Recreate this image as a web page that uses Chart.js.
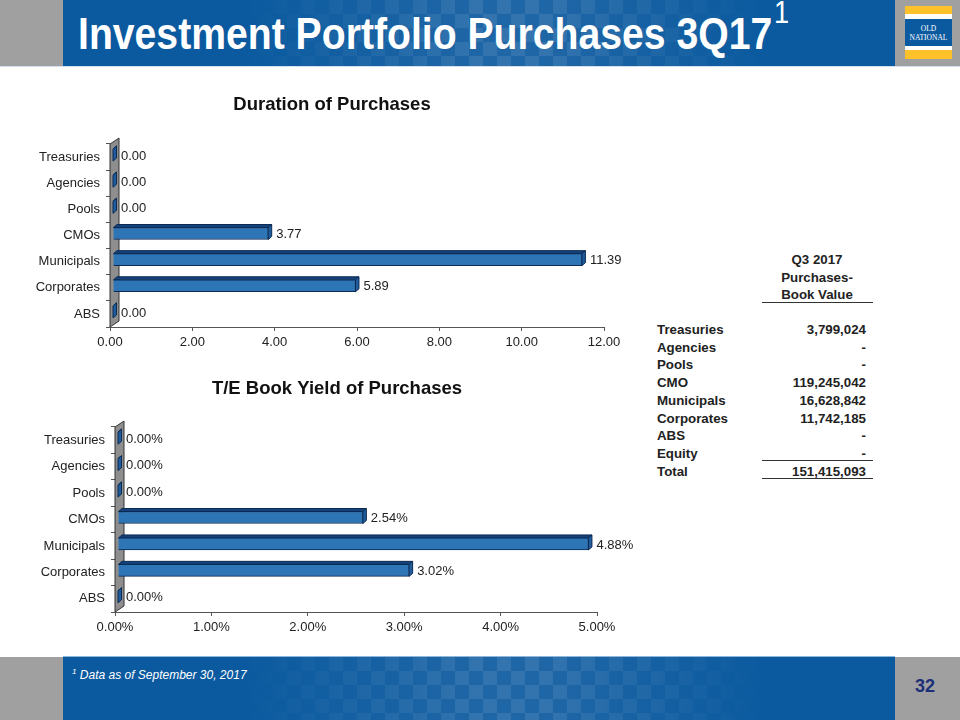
<!DOCTYPE html>
<html>
<head>
<meta charset="utf-8">
<script src="https://cdn.jsdelivr.net/npm/chart.js@4"></script>
<style>
  html, body { margin: 0; padding: 0; background: #fff; }
  body { position: relative; width: 960px; height: 720px; overflow: hidden; font-family: "Liberation Sans", Arial, sans-serif; }
  .abs { position: absolute; }
  .gray { background: #a0a0a0; }
  .check {
    background: repeating-conic-gradient(rgba(255,255,255,.09) 0 25%, transparent 0 50%) 0 0 / 28px 28px, #145f a2;
    background: repeating-conic-gradient(rgba(255,255,255,.09) 0 25%, transparent 0 50%) 0 0 / 28px 28px, #1f66a6;
  }
  .fade {
    background: linear-gradient(90deg, #0b5a9f 0%, #0b5a9f 22%, rgba(11,90,159,0) 50%, rgba(11,90,159,0) 58%, #0b5a9f 84%);
  }
  #title { left: 78px; top: 8px; color: #fff; font-weight: bold; font-size: 44px; line-height: 52px; white-space: nowrap; transform-origin: 0 0; transform: scaleX(.89); }
  #sup { left: 774px; top: -6px; color: #fff; font-size: 32px; line-height: 36px; transform-origin: 0 0; transform: scaleX(.85); }
  #note { left: 72px; top: 668px; color: #fff; font-style: italic; font-size: 12px; line-height: 15px; white-space: nowrap; }
  #note sup { font-size: 8px; line-height: 0; }
  #page { left: 895px; width: 60px; top: 675px; text-align: center; color: #1c2f78; font-weight: bold; font-size: 18px; line-height: 22px; }
  #logoText { left: 905px; width: 47px; top: 25px; text-align: center; color: #fff; font-family: "Liberation Serif", serif; font-size: 7.5px; line-height: 8.5px; }
  canvas { position: absolute; }
  .cell { position: absolute; font-weight: bold; font-size: 13.3px; line-height: 16px; color: #222; white-space: nowrap; }
  .rule { position: absolute; left: 762px; width: 111px; height: 1px; background: #333; }
</style>
</head>
<body>
<div class="abs gray" style="left:0;top:0;width:960px;height:66px"></div>
<div class="abs check" style="left:63px;top:0;width:832px;height:66px"></div>
<div class="abs fade" style="left:63px;top:0;width:832px;height:66px"></div>
<div class="abs" style="left:0;top:66px;width:960px;height:1px;background:#d4e2ef"></div>
<div class="abs" id="title">Investment Portfolio Purchases 3Q17</div>
<div class="abs" id="sup">1</div>

<div class="abs" style="left:905px;top:6px;width:47px;height:8px;background:#fdc12a"></div>
<div class="abs" style="left:905px;top:14px;width:47px;height:5px;background:#fff"></div>
<div class="abs" style="left:905px;top:19px;width:47px;height:27px;background:#0b5a9f"></div>
<div class="abs" style="left:905px;top:46px;width:47px;height:4px;background:#fff"></div>
<div class="abs" style="left:905px;top:50px;width:47px;height:9px;background:#fdc12a"></div>
<div class="abs" id="logoText">OLD<br>NATIONAL</div>

<div class="abs gray" style="left:0;top:657px;width:960px;height:63px"></div>
<div class="abs check" style="left:63px;top:657px;width:832px;height:63px"></div>
<div class="abs fade" style="left:63px;top:657px;width:832px;height:63px"></div>
<div class="abs" style="left:63px;top:656px;width:832px;height:1px;background:#8fb8dc"></div>
<div class="abs" id="note"><sup>1</sup> Data as of September 30, 2017</div>
<div class="abs" id="page">32</div>

<canvas id="durationChart" width="640" height="285" style="left:12px;top:86px;width:640px;height:285px"></canvas>
<canvas id="yieldChart" width="640" height="270" style="left:17px;top:371px;width:640px;height:270px"></canvas>
<div id="table"></div>

<script>
var categories = ["Treasuries", "Agencies", "Pools", "CMOs", "Municipals", "Corporates", "ABS"];
var durationValues = [0, 0, 0, 3.77, 11.39, 5.89, 0];
var yieldValues = [0, 0, 0, 2.54, 4.88, 3.02, 0];

var tableHeader = ["Q3 2017", "Purchases-", "Book Value"];
var tableLabels = ["Treasuries", "Agencies", "Pools", "CMO", "Municipals", "Corporates", "ABS", "Equity", "Total"];
var tableValues = ["3,799,024", "-", "-", "119,245,042", "16,628,842", "11,742,185", "-", "-", "151,415,093"];

// fake 3D look of the original: grey wall, bars with a top and a side face
var bar3d = {
  id: 'bar3d',
  beforeDatasetsDraw: function(chart) {
    var ctx = chart.ctx, a = chart.chartArea;
    ctx.save();
    ctx.beginPath();
    ctx.moveTo(a.left, a.top);
    ctx.lineTo(a.left + 9, a.top - 6);
    ctx.lineTo(a.left + 9, a.bottom - 6);
    ctx.lineTo(a.left, a.bottom);
    ctx.closePath();
    ctx.fillStyle = '#8e8e8e';
    ctx.fill();
    ctx.strokeStyle = '#333';
    ctx.lineWidth = 1;
    ctx.stroke();
    ctx.restore();

    ctx.save();
    ctx.translate(3, -2);
    chart.getDatasetMeta(0).data.forEach(function(bar) {
      var p = bar.getProps(['x', 'y', 'base', 'height'], true);
      var top = p.y - p.height / 2, bottom = p.y + p.height / 2;
      ctx.strokeStyle = '#0c2a52';
      ctx.lineWidth = 1;
      ctx.fillStyle = '#14427c';
      ctx.beginPath();
      ctx.moveTo(p.base, top);
      ctx.lineTo(p.base + 3.5, top - 3);
      ctx.lineTo(p.x + 3.5, top - 3);
      ctx.lineTo(p.x, top);
      ctx.closePath();
      ctx.fill();
      ctx.stroke();
      ctx.fillStyle = '#1f5c9e';
      ctx.beginPath();
      ctx.moveTo(p.x, top);
      ctx.lineTo(p.x + 3.5, top - 3);
      ctx.lineTo(p.x + 3.5, bottom - 3);
      ctx.lineTo(p.x, bottom);
      ctx.closePath();
      ctx.fill();
      ctx.stroke();
    });
  },
  afterDatasetsDraw: function(chart) {
    var ctx = chart.ctx;
    ctx.restore();
    var opts = chart.options.plugins.bar3d;
    ctx.save();
    ctx.font = '13px "Liberation Sans", Arial, sans-serif';
    ctx.fillStyle = '#222';
    ctx.textBaseline = 'middle';
    chart.getDatasetMeta(0).data.forEach(function(bar, i) {
      var v = chart.data.datasets[0].data[i];
      ctx.fillText(v.toFixed(2) + opts.suffix, bar.x + 11, bar.y - 1);
    });
    ctx.restore();
  }
};

function makeChart(id, values, titleText, xMax, step, suffix, rightSpace, bottomHeight, titlePad) {
  return new Chart(document.getElementById(id).getContext('2d'), {
    type: 'bar',
    data: {
      labels: categories,
      datasets: [{
        data: values,
        backgroundColor: '#2e75b6',
        borderColor: '#0c2a52',
        borderWidth: 1,
        barThickness: 12
      }]
    },
    plugins: [bar3d],
    options: {
      indexAxis: 'y',
      responsive: false,
      animation: false,
      layout: { padding: 0 },
      plugins: {
        legend: { display: false },
        tooltip: { enabled: false },
        bar3d: { suffix: suffix },
        title: {
          display: true,
          text: titleText,
          color: '#111',
          font: { family: '"Liberation Sans", Arial, sans-serif', size: 18.5, weight: 'bold', lineHeight: 1.2 },
          padding: titlePad
        }
      },
      scales: {
        x: {
          min: 0,
          max: xMax,
          afterFit: function(s) { s.height = bottomHeight; },
          border: { color: '#555' },
          grid: { drawOnChartArea: false, tickColor: '#555', tickLength: 4 },
          ticks: {
            stepSize: step,
            maxRotation: 0,
            color: '#222',
            padding: 4,
            font: { family: '"Liberation Sans", Arial, sans-serif', size: 13 },
            callback: function(v) { return v.toFixed(2) + suffix; }
          }
        },
        y: {
          afterFit: function(s) { s.width = 98; },
          border: { color: '#555' },
          grid: { drawOnChartArea: false, tickColor: '#555', tickLength: 4 },
          ticks: {
            color: '#222',
            padding: 6,
            font: { family: '"Liberation Sans", Arial, sans-serif', size: 13 }
          }
        },
        // empty axis on the right, only keeps room so the title stays centred on the canvas
        spacer: {
          type: 'linear',
          position: 'right',
          afterFit: function(s) { s.width = rightSpace; },
          border: { display: false },
          grid: { display: false },
          ticks: { display: false }
        }
      }
    }
  });
}

makeChart('durationChart', durationValues, 'Duration of Purchases', 12, 2, '', 48, 44, { top: 8, bottom: 27.8 });
makeChart('yieldChart', yieldValues, 'T/E Book Yield of Purchases', 5, 1, '%', 60, 29, { top: 7, bottom: 26.8 });

// table on the right side
var table = document.getElementById('table');
function addCell(text, style) {
  var d = document.createElement('div');
  d.className = 'cell';
  d.textContent = text;
  d.style.cssText = style;
  table.appendChild(d);
}
function addRule(y) {
  var d = document.createElement('div');
  d.className = 'rule';
  d.style.top = y + 'px';
  table.appendChild(d);
}
tableHeader.forEach(function(t, i) {
  addCell(t, 'left:757px;width:120px;text-align:center;top:' + (252 + i * 17.7) + 'px');
});
tableLabels.forEach(function(t, i) {
  var y = 322 + i * 17.7;
  addCell(t, 'left:657px;top:' + y + 'px');
  addCell(tableValues[i], 'right:' + (960 - 866) + 'px;top:' + y + 'px');
});
addRule(302);
addRule(460);
addRule(478);
</script>
</body>
</html>
